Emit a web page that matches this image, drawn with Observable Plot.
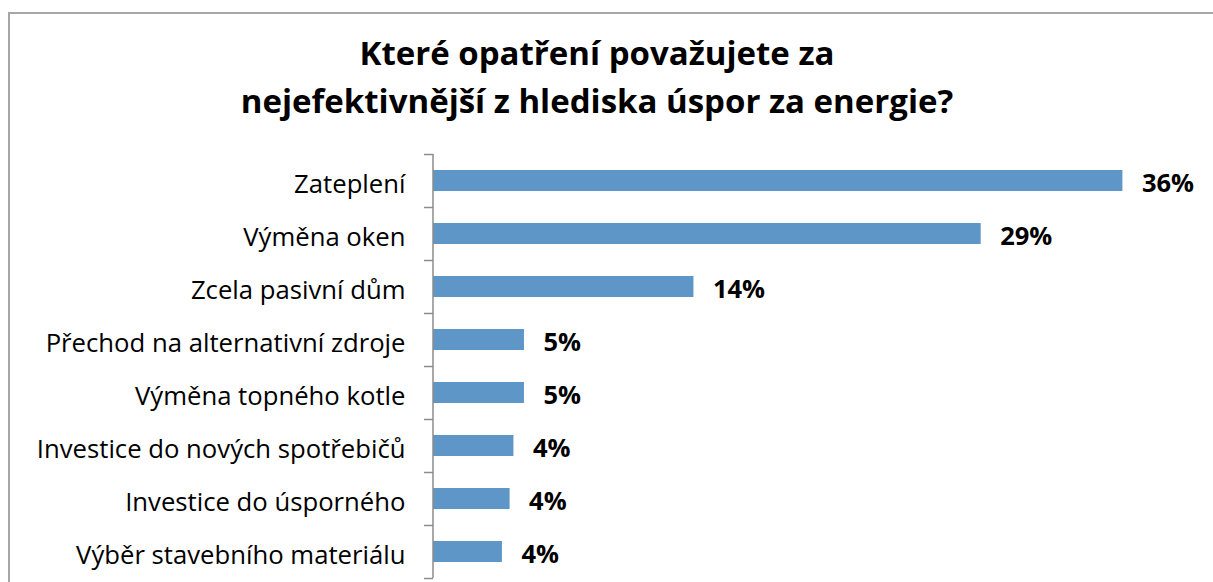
<!DOCTYPE html>
<html>
<head>
<meta charset="utf-8">
<script src="https://cdn.jsdelivr.net/npm/d3@7"></script>
<script src="https://cdn.jsdelivr.net/npm/@observablehq/plot@0.6"></script>
<style>
  html, body { margin: 0; padding: 0; background: #fff; }
  body { width: 1213px; height: 582px; position: relative; overflow: hidden; font-family: "Open Sans", Lato, sans-serif; }
  #frame { position: absolute; left: 8px; top: 12px; right: -10px; bottom: -10px; border-top: 2px solid #a6a6a6; border-left: 2px solid #a6a6a6; }
  #title { position: absolute; left: 0; top: 29px; width: 1194px; text-align: center; font-weight: 700; font-size: 33px; line-height: 48px; color: #000; }
  #chart { position: absolute; left: 0; top: 140px; }
</style>
</head>
<body>
<div id="frame"></div>
<div id="title">Které opatření považujete za<br>nejefektivnější z hlediska úspor za energie?</div>
<div id="chart"></div>
<script>
const categories = [
  "Zateplení",
  "Výměna oken",
  "Zcela pasivní dům",
  "Přechod na alternativní zdroje",
  "Výměna topného kotle",
  "Investice do nových spotřebičů",
  "Investice do úsporného",
  "Výběr stavebního materiálu"
];
const values = [36, 28.6, 13.6, 4.75, 4.75, 4.2, 4.0, 3.6];
const valueLabels = ["36%", "29%", "14%", "5%", "5%", "4%", "4%", "4%"];

const data = categories.map((c, i) => ({category: c, value: values[i], label: valueLabels[i]}));

const H = 442, mTop = 14, mBottom = 4;
const step = (H - mTop - mBottom) / categories.length;

const chart = Plot.plot({
  width: 1213,
  height: H,
  marginLeft: 433,
  marginRight: 14,
  marginTop: mTop,
  marginBottom: mBottom,
  style: {fontFamily: "'Open Sans', Lato, sans-serif", background: "transparent"},
  x: {domain: [0, 40], axis: null},
  y: {domain: categories, padding: 0, axis: null},
  marks: [
    Plot.barX(data, {y: "category", x: "value", fill: "#5f96c8", insetTop: 16, insetBottom: 16}),
    Plot.ruleX([0], {stroke: "#8c8c8c", strokeWidth: 1.5, dx: -0.5}),
    Plot.ruleY(categories, {y: d => d, x1: 0, x2: 0, insetLeft: -9, stroke: "#8c8c8c", strokeWidth: 1.5, dy: -step / 2}),
    Plot.ruleY(categories.slice(-1), {y: d => d, x1: 0, x2: 0, insetLeft: -9, stroke: "#8c8c8c", strokeWidth: 1.5, dy: step / 2}),
    Plot.axisY({tickSize: 0, tickPadding: 28, fontSize: 25.7, fill: "#000", textAnchor: "end", label: null, dy: 4}),
    Plot.text(data, {y: "category", x: "value", text: "label", dx: 19, dy: 3, textAnchor: "start", fontSize: 25.5, fontWeight: "bold", fill: "#000"})
  ]
});
document.getElementById("chart").appendChild(chart);
</script>
</body>
</html>
